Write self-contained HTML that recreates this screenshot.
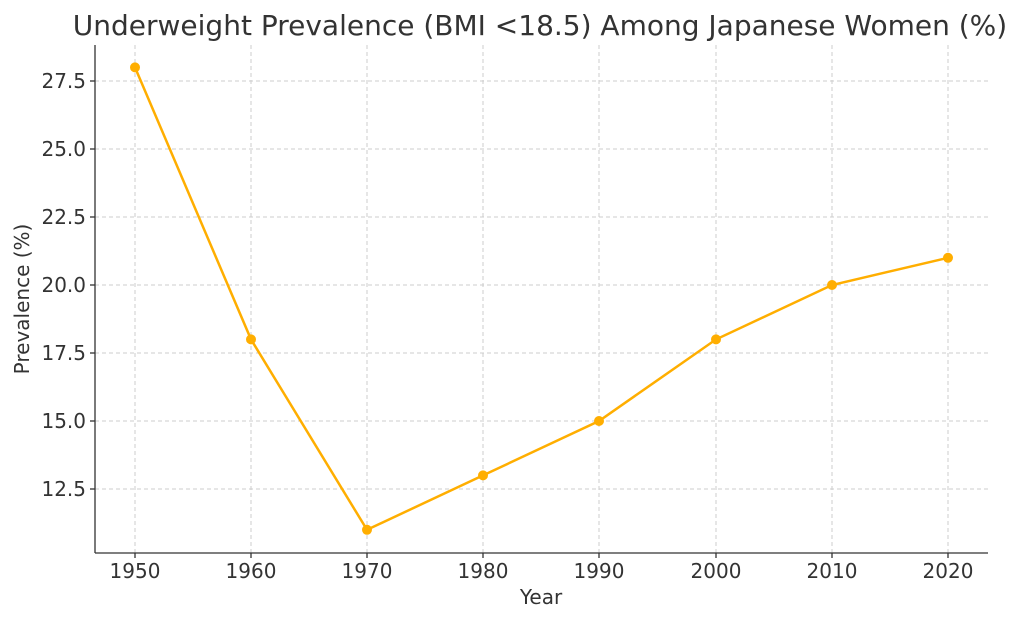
<!DOCTYPE html>
<html><head><meta charset="utf-8"><style>
body{margin:0;background:#fff}
svg text{font-family:"DejaVu Sans","Liberation Sans",sans-serif;fill:#333}
</style></head><body>
<svg width="1024" height="621" viewBox="0 0 1024 621" xmlns="http://www.w3.org/2000/svg">
<rect width="1024" height="621" fill="#fff"/>
<text x="540" y="35" font-size="28" text-anchor="middle">Underweight Prevalence (BMI &lt;18.5) Among Japanese Women (%)</text>
<g stroke="#ccc" stroke-width="1" stroke-dasharray="4,3">
<line x1="135" y1="45" x2="135" y2="553"/><line x1="251" y1="45" x2="251" y2="553"/>
<line x1="367" y1="45" x2="367" y2="553"/><line x1="483" y1="45" x2="483" y2="553"/>
<line x1="599" y1="45" x2="599" y2="553"/><line x1="716" y1="45" x2="716" y2="553"/>
<line x1="832" y1="45" x2="832" y2="553"/><line x1="948" y1="45" x2="948" y2="553"/>
<line x1="95" y1="81" x2="988" y2="81"/><line x1="95" y1="149" x2="988" y2="149"/>
<line x1="95" y1="217" x2="988" y2="217"/><line x1="95" y1="285" x2="988" y2="285"/>
<line x1="95" y1="353" x2="988" y2="353"/><line x1="95" y1="421" x2="988" y2="421"/>
<line x1="95" y1="489" x2="988" y2="489"/>
</g>
<g stroke="#333" stroke-width="1.3">
<line x1="95" y1="45" x2="95" y2="553"/><line x1="95" y1="553" x2="988" y2="553"/>
<line x1="90" y1="81" x2="95" y2="81"/><line x1="90" y1="149" x2="95" y2="149"/>
<line x1="90" y1="217" x2="95" y2="217"/><line x1="90" y1="285" x2="95" y2="285"/>
<line x1="90" y1="353" x2="95" y2="353"/><line x1="90" y1="421" x2="95" y2="421"/>
<line x1="90" y1="489" x2="95" y2="489"/>
<line x1="135" y1="553" x2="135" y2="558"/><line x1="251" y1="553" x2="251" y2="558"/>
<line x1="367" y1="553" x2="367" y2="558"/><line x1="483" y1="553" x2="483" y2="558"/>
<line x1="599" y1="553" x2="599" y2="558"/><line x1="716" y1="553" x2="716" y2="558"/>
<line x1="832" y1="553" x2="832" y2="558"/><line x1="948" y1="553" x2="948" y2="558"/>
</g>
<g font-size="20" text-anchor="end">
<text x="86" y="88">27.5</text><text x="86" y="156">25.0</text><text x="86" y="224">22.5</text>
<text x="86" y="292">20.0</text><text x="86" y="360">17.5</text><text x="86" y="428">15.0</text>
<text x="86" y="496">12.5</text>
</g>
<g font-size="20" text-anchor="middle">
<text x="135" y="578">1950</text><text x="251" y="578">1960</text><text x="367" y="578">1970</text>
<text x="483" y="578">1980</text><text x="599" y="578">1990</text><text x="716" y="578">2000</text>
<text x="832" y="578">2010</text><text x="948" y="578">2020</text>
<text x="541" y="604">Year</text>
</g>
<text font-size="20" text-anchor="middle" transform="translate(29,299) rotate(-90)">Prevalence (%)</text>
<polyline fill="none" stroke="#ffae00" stroke-width="2.5" points="135,67.4 251,339.4 367,529.8 483,475.4 599,421 716,339.4 832,285 948,257.8"/>
<g fill="#ffae00">
<circle cx="135" cy="67.4" r="5"/><circle cx="251" cy="339.4" r="5"/><circle cx="367" cy="529.8" r="5"/>
<circle cx="483" cy="475.4" r="5"/><circle cx="599" cy="421" r="5"/><circle cx="716" cy="339.4" r="5"/>
<circle cx="832" cy="285" r="5"/><circle cx="948" cy="257.8" r="5"/>
</g>
</svg>
</body></html>
